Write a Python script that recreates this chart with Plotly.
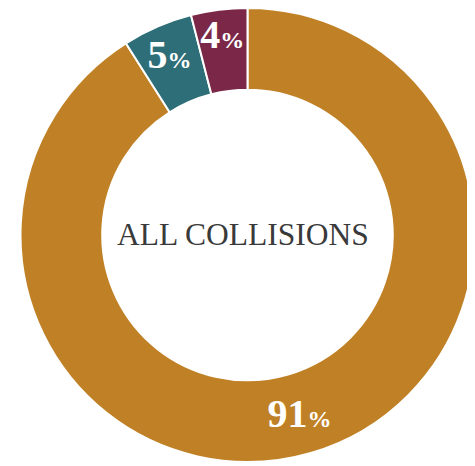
import plotly.graph_objects as go

categories = ["Category A", "Category B", "Category C"]
values = [91, 5, 4]
colors = ["#C08126", "#2E6E78", "#7B2848"]
center_label = "ALL COLLISIONS"

# page body has an 8px default margin; size the figure to the visible area
W, H = 467, 458
cx, cy, R = 240, 226, 228
domain = dict(x=[(cx - R) / W, min(1, (cx + R) / W)],
              y=[max(0, (H - cy - R) / H), min(1, (H - cy + R) / H)])

label_tpl = "<b>%{value}</b><span style='font-size:24px'><b>%</b></span>"
label_font = dict(family="Liberation Serif", size=40, color="white")

# ring with horizontal labels for the small slices
fig = go.Figure(go.Pie(
    labels=categories, values=values, sort=False,
    direction="clockwise", rotation=0, hole=0.64,
    marker=dict(colors=colors, line=dict(color="white", width=2)),
    texttemplate=label_tpl,
    textposition=["none", "inside", "inside"],
    insidetextorientation="horizontal",
    textfont=label_font,
    showlegend=False, hoverinfo="label+value",
    domain=domain,
))
# same ring (transparent) carrying the big slice's label at its bisector
fig.add_trace(go.Pie(
    labels=categories, values=values, sort=False,
    direction="clockwise", rotation=0, hole=0.64,
    marker=dict(colors=["rgba(0,0,0,0)"] * 3, line=dict(width=0)),
    texttemplate=label_tpl,
    textposition=["inside", "none", "none"],
    insidetextorientation="auto",
    textfont=label_font,
    showlegend=False, hoverinfo="skip",
    domain=domain,
))

fig.add_annotation(
    text=center_label, x=(cx - 5) / W, y=(H - cy) / H, xref="paper", yref="paper",
    showarrow=False, xanchor="center", yanchor="middle",
    font=dict(family="Liberation Serif", size=31.5, color="#3a3a3a"),
)

fig.update_layout(
    width=W, height=H,
    margin=dict(l=0, r=0, t=0, b=0),
    paper_bgcolor="white", plot_bgcolor="white",
    uniformtext=dict(minsize=40, mode="show"),
)

fig.write_html("out.html")
